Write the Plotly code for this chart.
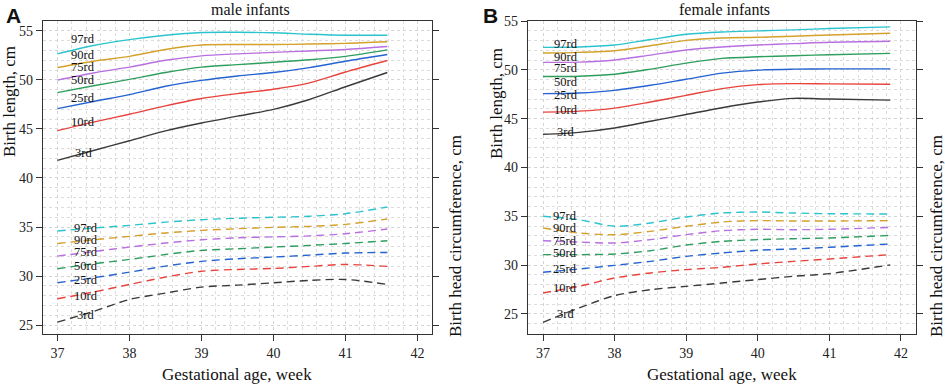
import plotly.graph_objects as go

# ---------------- data ----------------
pct_labels = ["97rd", "90rd", "75rd", "50rd", "25rd", "10rd", "3rd"]
colors = ["#2BC4CE", "#D4A12A", "#B86FE0", "#2E9E5E", "#2463D1", "#E8433D", "#3A3A3A"]

weeks_male = [37, 37.5, 38, 38.5, 39, 39.5, 40, 40.5, 41, 41.58]
weeks_female = [37, 37.5, 38, 38.5, 39, 39.5, 40, 40.5, 41, 41.85]

male_length = {
    "97rd": [52.65, 53.5, 54.1, 54.55, 54.83, 54.85, 54.8, 54.65, 54.55, 54.55],
    "90rd": [51.26, 51.9, 52.4, 53.1, 53.55, 53.6, 53.6, 53.65, 53.72, 53.88],
    "75rd": [49.97, 50.7, 51.3, 52.0, 52.45, 52.65, 52.8, 52.95, 53.1, 53.4],
    "50rd": [48.7, 49.4, 50.05, 50.75, 51.3, 51.55, 51.8, 52.05, 52.4, 53.06],
    "25rd": [47.07, 47.8, 48.5, 49.35, 49.95, 50.4, 50.75, 51.25, 51.9, 52.58],
    "10rd": [44.83, 45.7, 46.5, 47.35, 48.1, 48.6, 49.05, 49.7, 50.8, 51.97],
    "3rd":  [41.8, 42.8, 43.8, 44.8, 45.6, 46.3, 47.0, 48.0, 49.3, 50.75],
}
male_head = {
    "97rd": [34.6, 34.9, 35.17, 35.5, 35.75, 35.9, 36.0, 36.1, 36.36, 37.04],
    "90rd": [33.33, 33.7, 34.05, 34.4, 34.66, 34.83, 34.97, 35.07, 35.27, 35.82],
    "75rd": [32.04, 32.5, 32.96, 33.37, 33.7, 33.9, 34.0, 34.1, 34.32, 34.8],
    "50rd": [30.75, 31.26, 31.7, 32.2, 32.62, 32.79, 32.96, 33.13, 33.33, 33.6],
    "25rd": [29.32, 29.83, 30.4, 31.02, 31.5, 31.77, 31.94, 32.14, 32.35, 32.41],
    "10rd": [27.69, 28.37, 29.15, 29.9, 30.5, 30.68, 30.78, 30.99, 31.19, 30.99],
    "3rd":  [25.31, 26.4, 27.62, 28.27, 28.88, 29.08, 29.32, 29.56, 29.66, 29.15],
}
female_length = {
    "97rd": [52.3, 52.34, 52.54, 53.1, 53.64, 53.88, 53.99, 54.09, 54.23, 54.4],
    "90rd": [51.72, 51.79, 51.96, 52.47, 53.02, 53.26, 53.33, 53.44, 53.57, 53.75],
    "75rd": [50.76, 50.79, 51.0, 51.51, 52.03, 52.34, 52.54, 52.68, 52.82, 52.92],
    "50rd": [49.31, 49.35, 49.55, 50.07, 50.69, 51.17, 51.34, 51.44, 51.55, 51.68],
    "25rd": [47.56, 47.63, 47.9, 48.42, 49.04, 49.66, 49.97, 50.07, 50.1, 50.1],
    "10rd": [45.67, 45.77, 46.08, 46.7, 47.39, 48.08, 48.49, 48.59, 48.56, 48.52],
    "3rd":  [43.4, 43.6, 44.05, 44.74, 45.43, 46.12, 46.7, 47.08, 47.01, 46.9],
}
female_head = {
    "97rd": [35.0, 34.66, 33.98, 34.32, 34.93, 35.34, 35.44, 35.34, 35.27, 35.24],
    "90rd": [33.81, 33.29, 33.12, 33.46, 33.98, 34.42, 34.56, 34.52, 34.52, 34.56],
    "75rd": [32.5, 32.37, 32.27, 32.61, 33.12, 33.53, 33.67, 33.63, 33.67, 33.87],
    "50rd": [31.08, 31.08, 31.14, 31.48, 32.06, 32.44, 32.61, 32.71, 32.78, 33.05],
    "25rd": [29.27, 29.61, 29.98, 30.39, 30.9, 31.25, 31.52, 31.66, 31.83, 32.17],
    "10rd": [27.15, 27.83, 28.69, 29.2, 29.54, 29.78, 30.12, 30.39, 30.63, 31.08],
    "3rd":  [24.15, 25.61, 26.88, 27.49, 27.83, 28.17, 28.52, 28.86, 29.13, 30.03],
}

# label positions (week, value)
male_len_lab_x = 37.36
male_len_lab_y = [54.15, 52.5, 51.3, 49.95, 48.16, 45.7, 42.58]
male_head_lab_x = 37.39
male_head_lab_y = [34.93, 33.64, 32.41, 31.05, 29.63, 27.96, 26.05]
fem_len_lab_x = 37.32
fem_len_lab_y = [52.65, 51.27, 50.14, 48.76, 47.39, 45.84, 43.6]
fem_head_lab_x = 37.31
fem_head_lab_y = [35.07, 33.77, 32.5, 31.25, 29.61, 27.66, 24.97]

xticks = [37, 38, 39, 40, 41, 42]
yticks = [25, 30, 35, 40, 45, 50, 55]

# ---------------- figure ----------------
FONT = "Liberation Serif"
fig = go.Figure()

def add_panel(xref, yref, weeks, length, head):
    for lab, col in zip(pct_labels, colors):
        fig.add_trace(go.Scatter(x=weeks, y=length[lab], mode="lines",
                                 line=dict(color=col, width=1.4, shape="spline", smoothing=0.8),
                                 xaxis=xref, yaxis=yref, showlegend=False, hoverinfo="skip"))
        fig.add_trace(go.Scatter(x=weeks, y=head[lab], mode="lines",
                                 line=dict(color=col, width=1.4, shape="spline", smoothing=0.8,
                                           dash="8px,5px"),
                                 xaxis=xref, yaxis=yref, showlegend=False, hoverinfo="skip"))

add_panel("x", "y", weeks_male, male_length, male_head)
add_panel("x2", "y2", weeks_female, female_length, female_head)

def add_labels(xr, yr, lx, ly_list):
    for lab, ly in zip(pct_labels, ly_list):
        fig.add_annotation(x=lx, y=ly, xref=xr, yref=yr, text=lab, showarrow=False,
                           borderpad=0,
                           font=dict(family=FONT, size=12.5, color="#111"))

add_labels("x", "y", male_len_lab_x, male_len_lab_y)
add_labels("x", "y", male_head_lab_x, male_head_lab_y)
add_labels("x2", "y2", fem_len_lab_x, fem_len_lab_y)
add_labels("x2", "y2", fem_head_lab_x, fem_head_lab_y)

W, H = 945, 384
yd = [(H - 334) / H, (H - 21) / H]

axis_common = dict(showline=True, linecolor="#333", linewidth=1.3, ticks="outside",
                   ticklen=6, tickcolor="#333", tickwidth=1.3, automargin=False,
                   tickfont=dict(family=FONT, size=14, color="#222"),
                   showgrid=True, gridcolor="#d4d4d4", griddash="dot", gridwidth=1,
                   zeroline=False)

fig.update_layout(
    width=W, height=H, margin=dict(l=0, r=0, t=0, b=0),
    plot_bgcolor="white", paper_bgcolor="white",
    xaxis=dict(domain=[43 / W, 432 / W], range=[36.8, 42.2], tickvals=xticks, mirror=True,
               minor=dict(dtick=0.2, tick0=37, showgrid=True, gridcolor="#dcdcdc", griddash="dot"),
               **axis_common),
    yaxis=dict(domain=yd, range=[24.1, 56.0], tickvals=yticks, mirror="ticks",
               minor=dict(dtick=1, tick0=25, showgrid=True, gridcolor="#dcdcdc", griddash="dot"),
               **axis_common),
    xaxis2=dict(domain=[528 / W, 916 / W], range=[36.79, 42.21], tickvals=xticks, mirror=True,
                anchor="y2",
                minor=dict(dtick=0.2, tick0=37, showgrid=True, gridcolor="#dcdcdc", griddash="dot"),
                **axis_common),
    yaxis2=dict(domain=yd, range=[22.95, 55.0], tickvals=yticks, mirror="ticks", anchor="x2",
                minor=dict(dtick=1, tick0=25, showgrid=True, gridcolor="#dcdcdc", griddash="dot"),
                **axis_common),
)

def paper_text(x, y, text, size, angle=0, family=FONT):
    fig.add_annotation(x=x / W, y=1 - y / H, xref="paper", yref="paper", text=text,
                       showarrow=False, textangle=angle, xanchor="center", yanchor="middle",
                       borderpad=0, font=dict(family=family, size=size, color="#111"))

paper_text(250, 9, "male infants", 16)
paper_text(724, 9, "female infants", 16)
paper_text(237, 374, "Gestational age, week", 17)
paper_text(722, 374, "Gestational age, week", 17)
paper_text(9, 102, "Birth length, cm", 17, angle=-90)
paper_text(497, 104, "Birth length, cm", 17, angle=-90)
paper_text(455, 236, "Birth head circumference, cm", 17, angle=-90)
paper_text(936, 236, "Birth head circumference, cm", 17, angle=-90)
paper_text(13, 16, "<b>A</b>", 21, family="Liberation Sans")
paper_text(490, 16, "<b>B</b>", 21, family="Liberation Sans")

fig.write_html("out.html", config={"displayModeBar": False},
               post_script="document.body.style.margin='0';")
